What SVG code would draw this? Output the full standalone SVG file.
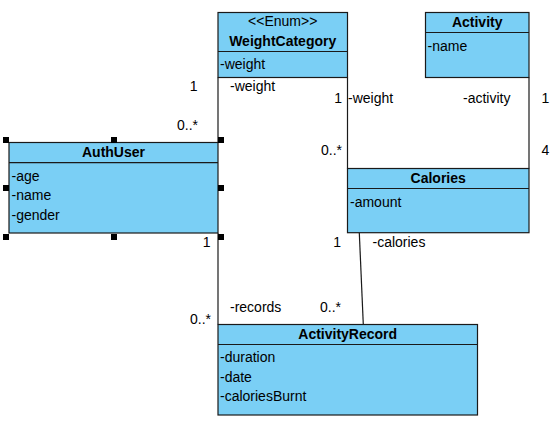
<svg xmlns="http://www.w3.org/2000/svg" width="557" height="426" viewBox="0 0 557 426">
<style>
text{font-family:"Liberation Sans",Arial,sans-serif;font-size:14px;fill:#000}
.t{font-weight:bold;text-anchor:middle}
.s{text-anchor:middle}
.r{text-anchor:end}
.box{fill:#7ACFF5;stroke:#1a1a1a;stroke-width:1.2}
.div{stroke:#1a1a1a;stroke-width:1.2}
.c{stroke:#1a1a1a;stroke-width:1.2;fill:none}
.h{fill:#000}
</style>
<rect width="557" height="426" fill="#fff"/>
<g id="connectors">
<line class="c" x1="218" y1="77.5" x2="218" y2="142.5"/>
<line class="c" x1="347.5" y1="77.5" x2="347.5" y2="168.5"/>
<line class="c" x1="529" y1="77.5" x2="529" y2="168.5"/>
<line class="c" x1="218" y1="233" x2="218" y2="324.5"/>
<line class="c" x1="359.3" y1="232.7" x2="363.3" y2="324.5"/>
<text class="r" x="197.5" y="91">1</text>
<text x="230" y="91">-weight</text>
<text class="r" x="198" y="130">0..*</text>
<text class="r" x="342" y="103">1</text>
<text x="348" y="103">-weight</text>
<text class="r" x="342" y="155">0..*</text>
<text x="463" y="103">-activity</text>
<text x="541.5" y="103">1</text>
<text x="541.5" y="155">4</text>
<text class="r" x="210.5" y="246.5">1</text>
<text x="230" y="311.5">-records</text>
<text class="r" x="211" y="323.5">0..*</text>
<text class="r" x="341" y="246.5">1</text>
<text x="372.5" y="246.5">-calories</text>
<text class="r" x="341" y="311.5">0..*</text>
</g>
<g id="WeightCategory">
<rect class="box" x="218" y="12.5" width="129.5" height="65"/>
<line class="div" x1="218" y1="51.5" x2="347.5" y2="51.5"/>
<text class="s" x="282.7" y="25.5">&lt;&lt;Enum&gt;&gt;</text>
<text class="t" x="282.7" y="45.5">WeightCategory</text>
<text x="220" y="69">-weight</text>
</g>
<g id="Activity">
<rect class="box" x="425.5" y="12.5" width="103.5" height="65"/>
<line class="div" x1="425.5" y1="32.5" x2="529" y2="32.5"/>
<text class="t" x="477.2" y="27">Activity</text>
<text x="427.5" y="50.5">-name</text>
</g>
<g id="AuthUser">
<rect class="box" x="9" y="142.5" width="209" height="90.5"/>
<line class="div" x1="9" y1="162.7" x2="218" y2="162.7"/>
<text class="t" x="113.5" y="157">AuthUser</text>
<text x="11.5" y="180.5">-age</text>
<text x="11.5" y="200">-name</text>
<text x="11.5" y="219.5">-gender</text>
<rect class="h" x="3" y="137" width="6" height="6"/>
<rect class="h" x="111" y="137" width="6" height="6"/>
<rect class="h" x="218" y="137" width="6" height="6"/>
<rect class="h" x="3" y="185" width="6" height="6"/>
<rect class="h" x="218" y="185" width="6" height="6"/>
<rect class="h" x="3" y="234" width="6" height="6"/>
<rect class="h" x="111" y="234" width="6" height="6"/>
<rect class="h" x="218" y="234" width="6" height="6"/>
</g>
<g id="Calories">
<rect class="box" x="347.5" y="168.5" width="181.5" height="64.2"/>
<line class="div" x1="347.5" y1="188.5" x2="529" y2="188.5"/>
<text class="t" x="438.2" y="183">Calories</text>
<text x="350" y="206.5">-amount</text>
</g>
<g id="ActivityRecord">
<rect class="box" x="218" y="324.5" width="259.5" height="90.5"/>
<line class="div" x1="218" y1="344.5" x2="477.5" y2="344.5"/>
<text class="t" x="347.7" y="339">ActivityRecord</text>
<text x="220" y="362.3">-duration</text>
<text x="220" y="381.8">-date</text>
<text x="220" y="401.2">-caloriesBurnt</text>
</g>
</svg>
